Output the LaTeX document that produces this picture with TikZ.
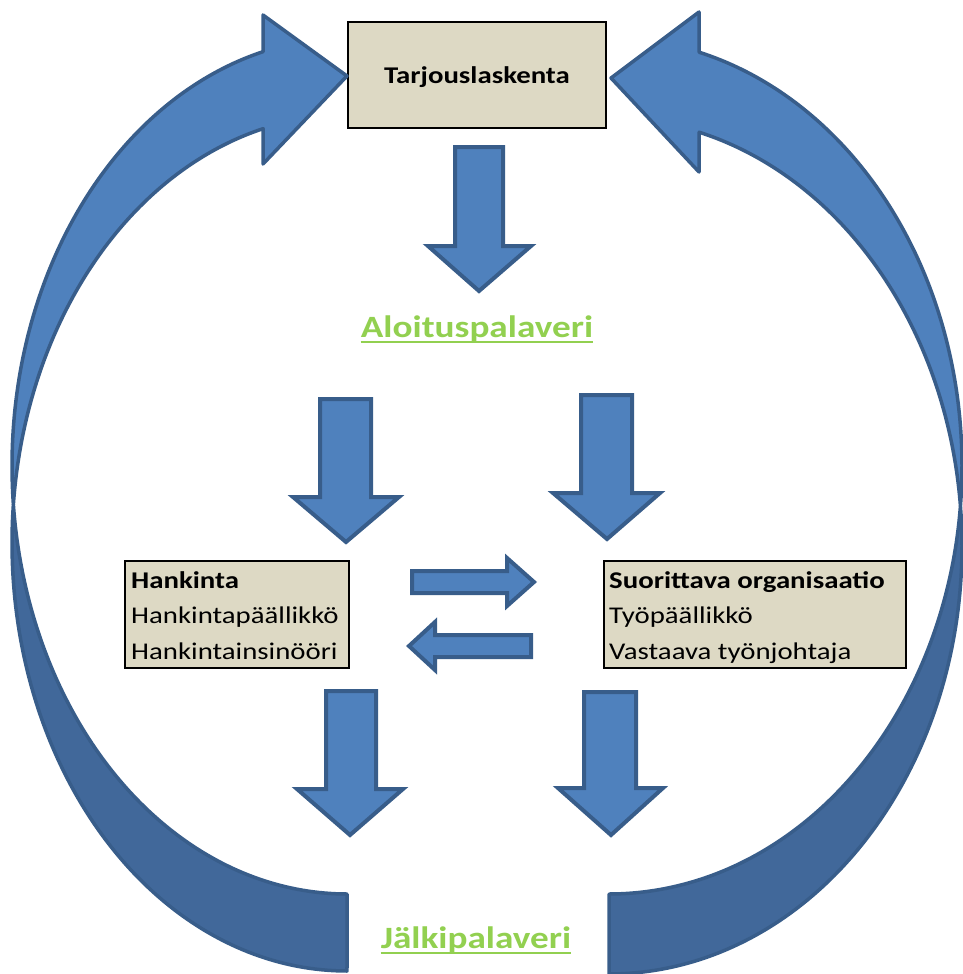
\documentclass[tikz,border=0pt]{standalone}
\usepackage{fontspec}
\setmainfont{Carlito}
\newfontfamily\calw[FakeStretch=1.2]{Carlito}
\definecolor{arrowfill}{HTML}{4F81BD}
\definecolor{arrowline}{HTML}{385D8A}
\definecolor{arrowback}{HTML}{41689A}
\definecolor{boxfill}{HTML}{DDD9C4}
\definecolor{titlegreen}{HTML}{92D050}
\tikzset{
  blockarrow/.style={fill=arrowfill, draw=arrowline, line width=4pt, line join=miter},
  curvefront/.style={fill=arrowfill, draw=arrowline, line width=3.5pt, line join=round},
  curveback/.style={fill=arrowback, draw=arrowline, line width=3.5pt, line join=round},
  box/.style={draw=black, line width=2pt, fill=boxfill, inner sep=0pt, anchor=north west},
  boldtxt/.style={font=\calw\bfseries\fontsize{24}{28}\selectfont, inner sep=0pt},
  plaintxt/.style={font=\calw\fontsize{24}{28}\selectfont, inner sep=0pt, anchor=base west},
  greentxt/.style={font=\calw\bfseries\fontsize{31}{36}\selectfont, text=titlegreen, inner sep=0pt, anchor=base},
  uline/.style={draw=titlegreen, line width=2.5pt}
}
\begin{document}
\begin{tikzpicture}[x=1pt,y=-1pt]
\useasboundingbox (0,0) rectangle (963,974);

% boxes
\node[box, minimum width=258pt, minimum height=106pt] (tarj) at (347,21) {};
\node[box, minimum width=224pt, minimum height=107pt] (hank) at (124,560) {};
\node[box, minimum width=302pt, minimum height=107pt] (suor) at (603,560) {};

% curved arrow, left (back face, then front face)
\path[curveback] plot[domain=5.16:-90, samples=90] ({347-335*cos(\x)},{543-428*sin(\x)})
   -- plot[domain=-90:-5.16, samples=90] ({347-335*cos(\x)},{466-428*sin(\x)}) -- cycle;
\path[curvefront] plot[domain=75.5:-5.16, samples=90] ({347-335*cos(\x)},{466-428*sin(\x)})
   -- plot[domain=5.16:75.5, samples=90] ({347-335*cos(\x)},{543-428*sin(\x)})
   -- (263,164) -- (tarj.west |- 0,76) -- (263,15) -- cycle;

% curved arrow, right
\path[curveback] plot[domain=5.36:-90, samples=90] ({609+353*cos(\x)},{546-428*sin(\x)})
   -- plot[domain=-90:-5.36, samples=90] ({609+353*cos(\x)},{466-428*sin(\x)}) -- cycle;
\path[curvefront] plot[domain=75.2:-5.36, samples=90] ({609+353*cos(\x)},{466-428*sin(\x)})
   -- plot[domain=5.36:75.2, samples=90] ({609+353*cos(\x)},{546-428*sin(\x)})
   -- (699,172) -- (611,78) -- (699,12) -- cycle;

% texts
\node[boldtxt, anchor=base] (tarjt) at (477,84) {Tarjouslaskenta};

\node[greentxt] (alo) at (477,337) {Aloituspalaveri};
\draw[uline] ([yshift=-5pt]alo.base west) -- ([yshift=-5pt]alo.base east);

\node[greentxt] (jalki) at (476,948) {Jälkipalaveri};
\draw[uline] ([yshift=-5pt]jalki.base west) -- ([yshift=-5pt]jalki.base east);

\node[boldtxt, anchor=base west] (h1) at (131,588) {Hankinta};
\node[plaintxt] (h2) at (131,623) {Hankintapäällikkö};
\node[plaintxt] (h3) at (131,659) {Hankintainsinööri};

\node[boldtxt, anchor=base west] (s1) at (609,588) {Suorittava organisaatio};
\node[plaintxt] (s2) at (609,623) {Työpäällikkö};
\node[plaintxt] (s3) at (609,659) {Vastaava työnjohtaja};

% straight block arrows
% top: Tarjouslaskenta -> Aloituspalaveri
\path[blockarrow] (455,147) -- (503,147) -- (503,246) -- (531,246) -- (479,291) -- (428,246) -- (455,246) -- cycle;
% Aloituspalaveri -> Hankinta
\path[blockarrow] (320,399) -- (371,399) -- (371,497) -- (399,497) -- (346,542) -- (293,497) -- (320,497) -- cycle;
% Aloituspalaveri -> Suorittava
\path[blockarrow] (581,395) -- (632,395) -- (632,493) -- (660,493) -- (607,539) -- (553,493) -- (581,493) -- cycle;
% Hankinta -> Suorittava
\path[blockarrow] (412,571) -- (507,571) -- (507,558) -- (534,582) -- (507,606) -- (507,593) -- (412,593) -- cycle;
% Suorittava -> Hankinta
\path[blockarrow] (531,635) -- (435,635) -- (435,622) -- (409,646) -- (435,670) -- (435,657) -- (531,657) -- cycle;
% Hankinta -> Jälkipalaveri
\path[blockarrow] (326,691) -- (376,691) -- (376,789) -- (403,789) -- (350,835) -- (297,789) -- (326,789) -- cycle;
% Suorittava -> Jälkipalaveri
\path[blockarrow] (584,692) -- (636,692) -- (636,788) -- (663,788) -- (611,835) -- (558,788) -- (584,788) -- cycle;
\end{tikzpicture}
\end{document}
